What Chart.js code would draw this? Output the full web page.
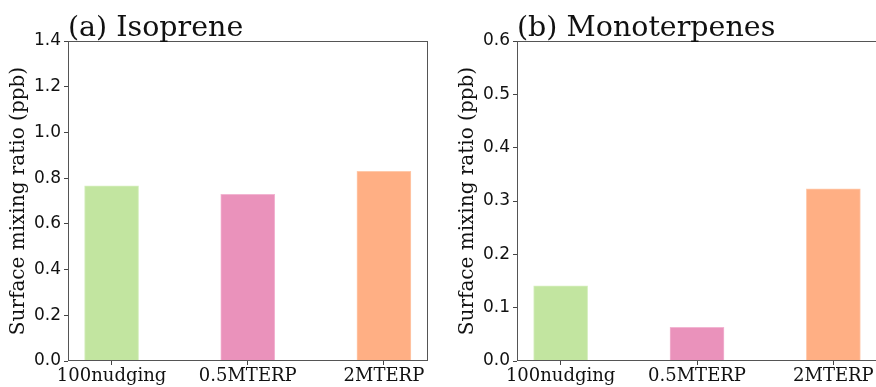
<!DOCTYPE html>
<html>
<head>
<title>Surface mixing ratio</title>
<script src="https://cdn.jsdelivr.net/npm/chart.js"></script>
<style>
  html, body { margin: 0; padding: 0; background: #fff; overflow: hidden; }
  #wrap { position: relative; width: 876px; height: 387px; overflow: hidden; }
  .panel { position: absolute; top: 0; }
</style>
</head>
<body>
<div id="wrap">
  <div class="panel" style="left:0"><canvas id="isoChart" width="440" height="387"></canvas></div>
  <div class="panel" style="left:440px"><canvas id="monoChart" width="440" height="387"></canvas></div>
</div>
<script>
// runs and surface values (ppb)
const categories = ['100nudging', '0.5MTERP', '2MTERP'];
const isopreneValues = [0.766, 0.729, 0.830];
const monoterpeneValues = [0.141, 0.063, 0.323];
const isopreneTicks = [0.0, 0.2, 0.4, 0.6, 0.8, 1.0, 1.2, 1.4];
const monoterpeneTicks = [0.0, 0.1, 0.2, 0.3, 0.4, 0.5, 0.6];

const barColors = ['#c2e5a0', '#ea92bb', '#ffaf84'];
const barEdges = ['#d6efbf', '#f2b5d2', '#ffc9aa'];

// box around the plot area
const framePlugin = {
    id: 'frame',
    afterDraw(chart) {
        const { left, top, right, bottom } = chart.chartArea;
        const ctx = chart.ctx;
        ctx.save();
        ctx.strokeStyle = '#555';
        ctx.lineWidth = 1;
        ctx.strokeRect(Math.round(left) + 0.5, Math.round(top) + 0.5,
            Math.round(right - left) - 1, Math.round(bottom - top) - 1);
        ctx.restore();
    }
};

// panel heading, left aligned with the plot area
const titlePlugin = {
    id: 'panelTitle',
    afterDraw(chart, args, opts) {
        const ctx = chart.ctx;
        ctx.save();
        ctx.font = '28.5px "DejaVu Serif"';
        ctx.fillStyle = '#111';
        ctx.textBaseline = 'alphabetic';
        ctx.textAlign = 'left';
        ctx.fillText(opts.text, chart.chartArea.left, 36);
        ctx.restore();
    }
};

function makeChart(id, title, values, yTicks, yWidth, titlePad, padRight) {
    const ctx = document.getElementById(id).getContext('2d');
    return new Chart(ctx, {
        type: 'bar',
        data: {
            datasets: [{
                data: values.map((v, i) => ({ x: i, y: v })),
                backgroundColor: barColors,
                borderColor: barEdges,
                borderWidth: 1,
                borderSkipped: 'bottom',
                barThickness: 54
            }]
        },
        plugins: [framePlugin, titlePlugin],
        options: {
            responsive: false,
            animation: false,
            devicePixelRatio: 1,
            layout: { padding: { top: 41, left: 0, right: padRight, bottom: 0 } },
            scales: {
                x: {
                    type: 'linear',
                    min: -0.32,
                    max: 2.32,
                    offset: false,
                    afterBuildTicks: s => { s.ticks = categories.map((c, i) => ({ value: i })); },
                    afterFit: s => { s.height = 26; },
                    border: { display: false },
                    grid: { offset: false, drawOnChartArea: false, drawTicks: true, tickLength: 4, color: '#444' },
                    ticks: {
                        autoSkip: false,
                        maxRotation: 0,
                        padding: 1,
                        color: '#111',
                        font: { family: 'DejaVu Serif', size: 18 },
                        callback: v => categories[v]
                    }
                },
                y: {
                    min: yTicks[0],
                    max: yTicks[yTicks.length - 1],
                    afterBuildTicks: s => { s.ticks = yTicks.map(v => ({ value: v })); },
                    afterFit: s => { s.width = yWidth; },
                    border: { display: false },
                    grid: { drawOnChartArea: false, drawTicks: true, tickLength: 4, color: '#444' },
                    ticks: {
                        padding: 3,
                        color: '#111',
                        font: { family: 'DejaVu Sans', size: 17 },
                        callback: v => v.toFixed(1)
                    },
                    title: {
                        display: true,
                        text: 'Surface mixing ratio (ppb)',
                        color: '#111',
                        font: { family: 'DejaVu Serif', size: 20 },
                        padding: { top: titlePad, bottom: 0 }
                    }
                }
            },
            plugins: {
                legend: { display: false },
                tooltip: { enabled: false },
                panelTitle: { text: title }
            }
        }
    });
}

makeChart('isoChart', '(a) Isoprene', isopreneValues, isopreneTicks, 68, 7, 12.5);
makeChart('monoChart', '(b) Monoterpenes', monoterpeneValues, monoterpeneTicks, 77, 16, 3);
</script>
</body>
</html>
